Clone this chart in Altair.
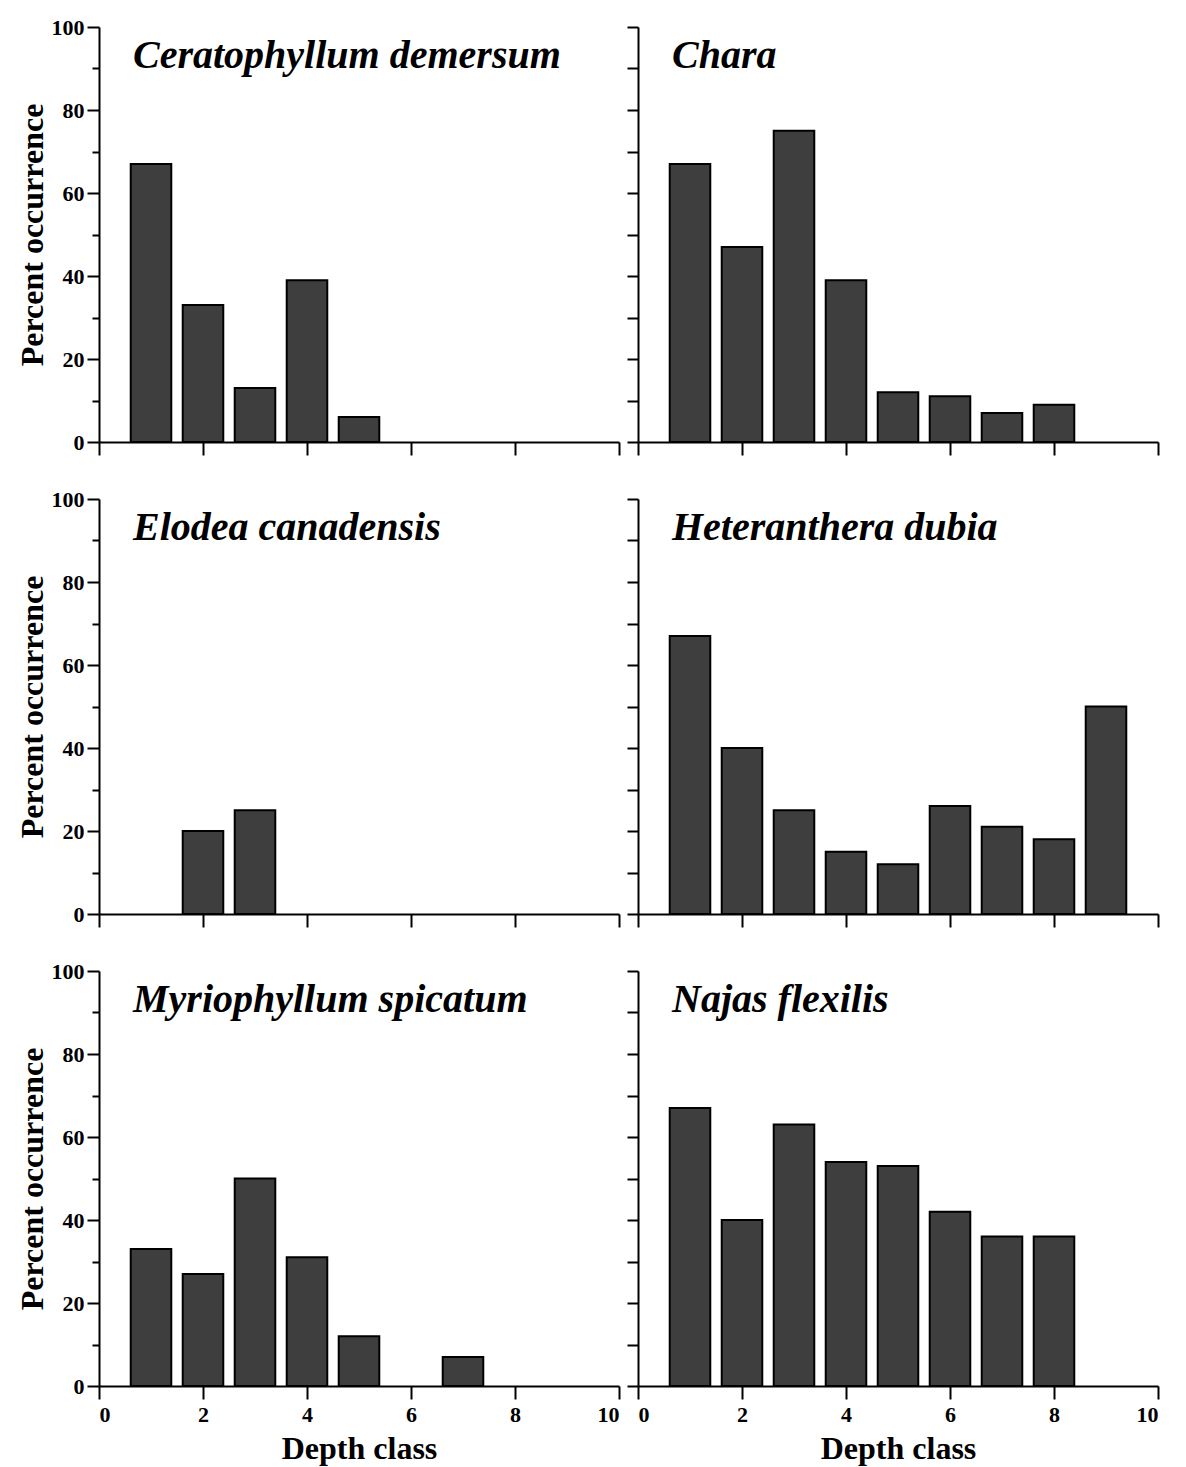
import altair as alt
import pandas as pd

# ---- data ----
species = [
    "Ceratophyllum demersum",
    "Chara",
    "Elodea canadensis",
    "Heteranthera dubia",
    "Myriophyllum spicatum",
    "Najas flexilis",
]

cer_depth = [1, 2, 3, 4, 5]
cer_pct = [67, 33, 13, 39, 6]

chara_depth = [1, 2, 3, 4, 5, 6, 7, 8]
chara_pct = [67, 47, 75, 39, 12, 11, 7, 9]

elo_depth = [2, 3]
elo_pct = [20, 25]

het_depth = [1, 2, 3, 4, 5, 6, 7, 8, 9]
het_pct = [67, 40, 25, 15, 12, 26, 21, 18, 50]

myr_depth = [1, 2, 3, 4, 5, 7]
myr_pct = [33, 27, 50, 31, 12, 7]

naj_depth = [1, 2, 3, 4, 5, 6, 7, 8]
naj_pct = [67, 40, 63, 54, 53, 42, 36, 36]

x_ticks = [0, 2, 4, 6, 8, 10]
y_ticks = [0, 10, 20, 30, 40, 50, 60, 70, 80, 90, 100]

series = [
    (cer_depth, cer_pct),
    (chara_depth, chara_pct),
    (elo_depth, elo_pct),
    (het_depth, het_pct),
    (myr_depth, myr_pct),
    (naj_depth, naj_pct),
]

FONT = "Liberation Serif"
BAR_FILL = "#3e3e3e"
HALF = 0.39


def make_panel(idx, name, depths, pcts):
    left = idx % 2 == 0
    bottom = idx >= 4
    df = pd.DataFrame({"depth": depths, "pct": pcts})

    if bottom:
        x_axis = alt.Axis(values=x_ticks, tickSize=13, labels=True, title="Depth class",
                          labelPadding=5, titlePadding=8, labelOverlap=False, format="d")
    else:
        x_axis = alt.Axis(values=x_ticks, tickSize=13, labels=False, title=None)

    if left:
        y_axis = alt.Axis(
            values=y_ticks,
            labelExpr="datum.value % 20 == 0 ? datum.label : ''",
            tickSize={"condition": {"test": "datum.value % 20 == 0", "value": 12}, "value": 7},
            title="Percent occurrence",
            titlePadding=2,
            labelPadding=3,
            labelOverlap=False,
        )
    else:
        y_axis = alt.Axis(values=y_ticks, tickSize=11, labels=False, title=None)

    bars = (
        alt.Chart(df)
        .transform_calculate(x0=f"datum.depth - {HALF}", x1=f"datum.depth + {HALF}", base="0")
        .mark_rect(fill=BAR_FILL, stroke="black", strokeWidth=2)
        .encode(
            x=alt.X("x0:Q", scale=alt.Scale(domain=[0, 10], nice=False), axis=x_axis),
            x2="x1:Q",
            y=alt.Y("pct:Q", scale=alt.Scale(domain=[0, 100], nice=False), axis=y_axis),
            y2="base:Q",
        )
    )
    label = (
        alt.Chart(pd.DataFrame({"name": [name]}))
        .mark_text(font=FONT, fontStyle="italic", fontWeight="bold", fontSize=40,
                   align="left", baseline="alphabetic", color="black")
        .encode(x=alt.value(34), y=alt.value(41), text="name:N")
    )
    return alt.layer(bars, label).properties(width=520, height=415)


panels = [make_panel(i, species[i], d, p) for i, (d, p) in enumerate(series)]

chart = (
    alt.concat(*panels, columns=2, spacing=alt.RowColnumber(row=57, column=19), bounds="flush")
    .properties(padding={"left": 16, "top": 16, "right": 10, "bottom": 5})
    .configure_view(strokeWidth=0)
    .configure_axis(
        grid=False,
        domainColor="black",
        domainWidth=2,
        tickColor="black",
        tickWidth=2,
        labelColor="black",
        labelFont=FONT,
        labelFontWeight="bold",
        labelFontSize=22,
        titleFont=FONT,
        titleFontSize=32,
        titleFontWeight="bold",
        titleColor="black",
    )
)

chart.save("out.html", embed_options={"renderer": "svg", "actions": False})
